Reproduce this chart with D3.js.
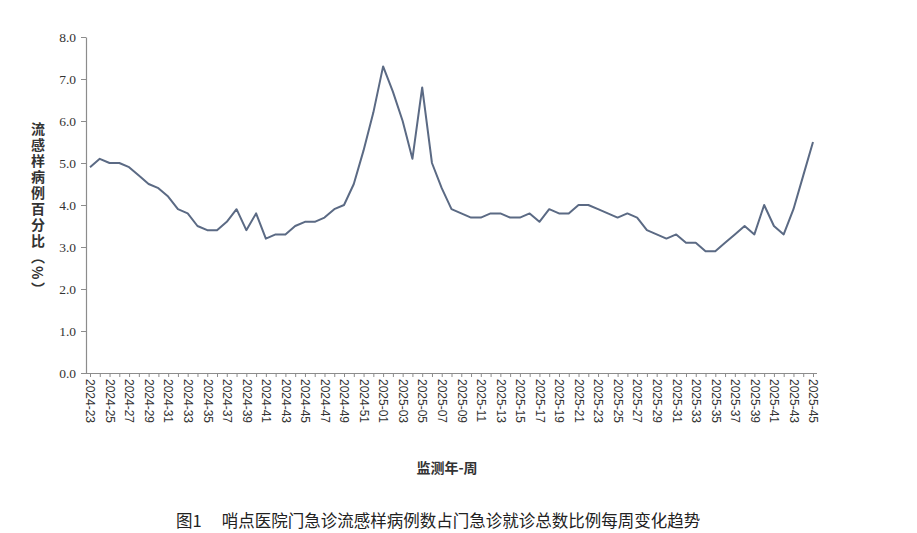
<!DOCTYPE html>
<html><head><meta charset="utf-8">
<script src="https://cdn.jsdelivr.net/npm/d3@7/dist/d3.min.js"></script>
<style>body{margin:0;background:#fff}svg{display:block}</style>
</head><body>
<svg id="c" width="917" height="533"></svg>
<script>
const weeks2024 = d3.range(23, 53).map(w => "2024-" + String(w).padStart(2, "0"));
const weeks2025 = d3.range(1, 46).map(w => "2025-" + String(w).padStart(2, "0"));
const categories = weeks2024.concat(weeks2025);
const values2024 = [4.9,5.1,5.0,5.0,4.9,4.7,4.5,4.4,4.2,3.9,3.8,3.5,3.4,3.4,3.6,3.9,3.4,3.8,3.2,3.3,3.3,3.5,3.6,3.6,3.7,3.9,4.0,4.5,5.3,6.2];
const values2025 = [7.3,6.7,6.0,5.1,6.8,5.0,4.4,3.9,3.8,3.7,3.7,3.8,3.8,3.7,3.7,3.8,3.6,3.9,3.8,3.8,4.0,4.0,3.9,3.8,3.7,3.8,3.7,3.4,3.3,3.2,3.3,3.1,3.1,2.9,2.9,3.1,3.3,3.5,3.3,4.0,3.5,3.3,3.9,4.7,5.5];
const values = values2024.concat(values2025);
const yTicks = [0,1,2,3,4,5,6,7,8];
const yTitle = "流感样病例百分比（%）";
const xTitle = "监测年-周";
const caption = "图1　 哨点医院门急诊流感样病例数占门急诊就诊总数比例每周变化趋势";

const svg = d3.select("#c");
const x = d3.scalePoint().domain(categories).range([90, 813]);
const y = d3.scaleLinear().domain([0, 8]).range([373, 37]);

// y axis
const yAxis = svg.append("g").attr("transform", "translate(86,0)")
  .call(d3.axisLeft(y).tickValues(yTicks).tickFormat(d3.format(".1f")).tickSize(5).tickSizeOuter(0));
yAxis.select(".domain").attr("stroke", "#8c8c8c").attr("stroke-width", 1.2);
yAxis.selectAll(".tick line").attr("stroke", "#8c8c8c");
yAxis.selectAll(".tick text").attr("font-family", "Liberation Serif, serif").attr("font-size", 13.5).attr("fill", "#333").attr("x", -10);

// x axis
const xAxis = svg.append("g").attr("transform", "translate(0,373)")
  .call(d3.axisBottom(x).tickSize(4).tickSizeOuter(0)
    .tickFormat((d, i) => i % 2 === 0 ? d : ""));
xAxis.select(".domain").attr("stroke", "#8c8c8c").attr("stroke-width", 1.2).attr("d", "M84,0.5H817");
xAxis.selectAll(".tick line").attr("stroke", "#8c8c8c");
xAxis.selectAll(".tick text")
  .attr("font-family", "Liberation Sans, Arial, sans-serif").attr("font-size", 12).attr("fill", "#333")
  .attr("text-anchor", "start").attr("transform", "rotate(90)")
  .attr("x", 6).attr("y", 0).attr("dy", "0.35em");

// line
svg.append("path").datum(values)
  .attr("fill", "none").attr("stroke", "#5b6a84").attr("stroke-width", 2)
  .attr("stroke-linejoin", "round")
  .attr("d", d3.line().x((d, i) => x(categories[i])).y(d => y(d)));

// y title (vertical)
svg.append("text").attr("x", 38).attr("y", 122)
  .attr("style", "writing-mode: vertical-rl")
  .attr("font-family", "Noto Sans CJK SC, sans-serif").attr("font-size", 14).attr("font-weight", 700)
  .attr("fill", "#333").attr("letter-spacing", 2).text(yTitle);

// x title
svg.append("text").attr("x", 447).attr("y", 473).attr("text-anchor", "middle")
  .attr("font-family", "Noto Sans CJK SC, sans-serif").attr("font-size", 14).attr("font-weight", 700)
  .attr("fill", "#333").text(xTitle);

// caption
svg.append("text").attr("x", 176).attr("y", 527)
  .attr("font-family", "Noto Sans CJK SC, sans-serif").attr("font-size", 16.5)
  .attr("fill", "#222").text(caption);
</script>
</body></html>
